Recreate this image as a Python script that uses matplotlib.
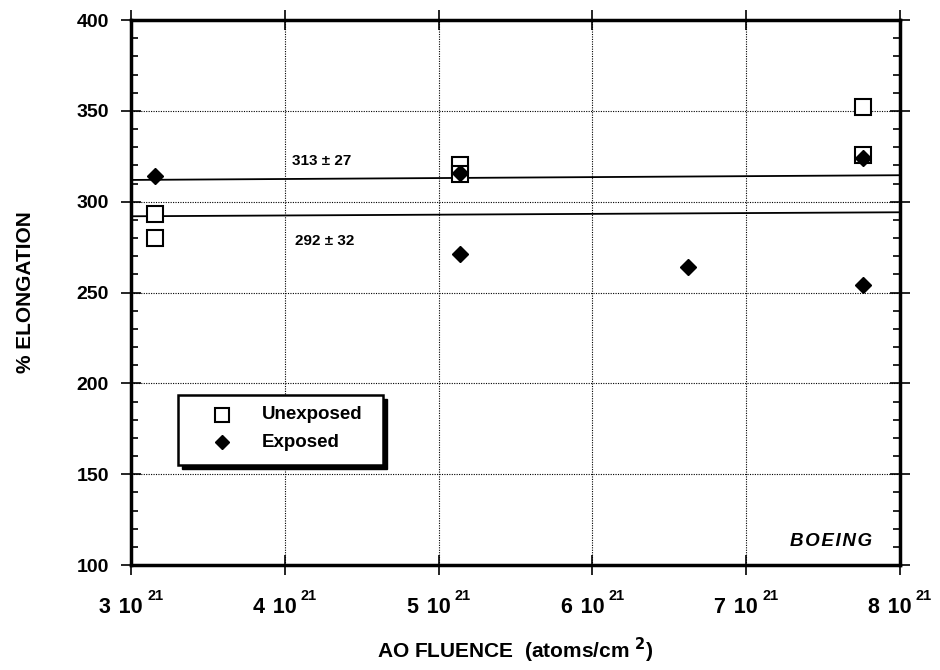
import matplotlib
matplotlib.use("Agg")
import matplotlib.pyplot as plt
from matplotlib.patches import Rectangle

plt.rcParams['font.family'] = ['Liberation Sans', 'DejaVu Sans']
plt.rcParams['font.weight'] = 'bold'

# fluence in units of 1e21 atoms/cm^2
unexp_x = [3.155, 3.155, 5.14, 5.14, 7.76, 7.76]
unexp_y = [293, 280, 320, 315, 352, 326]
exp_x = [3.155, 5.14, 5.14, 6.62, 7.76, 7.76]
exp_y = [314, 316, 271, 264, 324, 254]

fit_x = [3.0, 8.0]
fit_exp = [312.0, 314.6]
fit_unexp = [292.0, 294.2]

xticks = [3, 4, 5, 6, 7, 8]
yticks = [100, 150, 200, 250, 300, 350, 400]

fig = plt.figure(figsize=(9.4, 6.7), dpi=100)
ax = fig.add_axes([0.1394, 0.1567, 0.818, 0.8133])

ax.plot(fit_x, fit_exp, color='black', lw=1.3, zorder=2)
ax.plot(fit_x, fit_unexp, color='black', lw=1.3, zorder=2)

ax.plot(unexp_x, unexp_y, 's', ms=11, mfc='white', mec='black', mew=1.5,
        ls='none', zorder=3)
ax.plot(exp_x, exp_y, 'D', ms=8.5, mfc='black', mec='black', ls='none', zorder=4)

ax.text(4.24, 322.4, '313 ± 27', fontsize=11, fontweight='bold', ha='center', va='center')
ax.text(4.26, 278.4, '292 ± 32', fontsize=11, fontweight='bold', ha='center', va='center')

ax.set_xlim(3, 8)
ax.set_ylim(100, 400)
ax.set_xticks(xticks)
ax.set_xticklabels([])
ax.set_yticks(yticks)
ax.set_yticklabels([str(v) for v in yticks], fontsize=14, fontweight='bold')
ax.set_yticks(range(100, 401, 10), minor=True)

# x tick labels "N 10^21" built from a main part and a superscript
trans = ax.get_xaxis_transform()
for v in xticks:
    ax.annotate('%d \u200a10' % v, xy=(v, 0), xycoords=trans, xytext=(8.6, -34.6),
                textcoords='offset points', ha='right', va='baseline',
                fontsize=15.5, fontweight='bold', annotation_clip=False)
    ax.annotate('21', xy=(v, 0), xycoords=trans, xytext=(11.5, -25.5),
                textcoords='offset points', ha='left', va='baseline',
                fontsize=10.5, fontweight='bold', annotation_clip=False)

ax.grid(True, which='major', ls=(0, (1, 1.2)), color='black', lw=0.8)
for s in ax.spines.values():
    s.set_linewidth(2.5)

ax.tick_params(axis='x', which='major', direction='inout', length=14, width=1.2,
               top=True)
ax.tick_params(axis='y', which='major', direction='inout', length=14, width=1.2,
               right=True, pad=9)
ax.tick_params(axis='y', which='minor', direction='in', length=5, width=1.2,
               right=True, left=True)

ax.set_xlabel('AO FLUENCE  (atoms/cm $^{2}$)', fontsize=15, fontweight='bold', va='center')
ax.xaxis.set_label_coords(0.5, -0.156)
ax.set_ylabel('% ELONGATION', fontsize=15, fontweight='bold', va='center')
ax.yaxis.set_label_coords(-0.137, 0.5)

# legend box with drop shadow
shadow = Rectangle((3.332, 152.9), 1.332, 38.5, transform=ax.transData, fc='black',
                   ec='black', zorder=5)
ax.add_patch(shadow)
box = Rectangle((3.306, 155.1), 1.332, 38.5, transform=ax.transData, fc='white',
                ec='black', lw=1.8, zorder=6)
ax.add_patch(box)
ax.plot([3.59], [182.6], 's', ms=9.5, mfc='white', mec='black', mew=1.5, zorder=7)
ax.plot([3.59], [167.7], 'D', ms=7.5, mfc='black', mec='black', zorder=7)
ax.text(3.85, 182.6, 'Unexposed', fontsize=13.5, fontweight='bold', va='center', zorder=7)
ax.text(3.85, 167.7, 'Exposed', fontsize=13.5, fontweight='bold', va='center', zorder=7)

ax.text(7.55, 112.7, 'B\u200aO\u200aE\u200aI\u200aN\u200aG', fontsize=13.5, fontweight='heavy',
        fontstyle='italic', ha='center', va='center')

fig.savefig('out.png', dpi=100)
